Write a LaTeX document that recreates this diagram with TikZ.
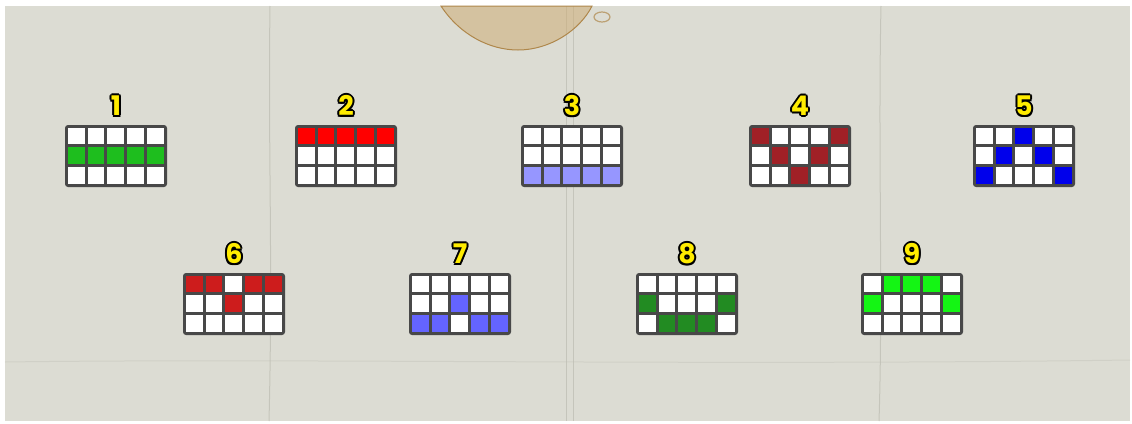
\documentclass[tikz,border=0pt]{standalone}
\usepackage{fontspec}
\setmainfont{Poppins}
\usetikzlibrary{positioning, calc}

\definecolor{paper}{RGB}{220,220,211}
\definecolor{fold}{RGB}{192,192,182}
\definecolor{stain}{RGB}{205,170,110}
\definecolor{stainedge}{RGB}{175,135,75}
\definecolor{frame}{RGB}{72,72,72}
\definecolor{numyellow}{RGB}{255,236,0}
% payline colours
\definecolor{payA}{RGB}{30,190,30}
\definecolor{payB}{RGB}{255,0,0}
\definecolor{payC}{RGB}{150,150,255}
\definecolor{payD}{RGB}{160,32,38}
\definecolor{payE}{RGB}{0,0,235}
\definecolor{payF}{RGB}{205,28,28}
\definecolor{payG}{RGB}{100,100,255}
\definecolor{payH}{RGB}{34,139,34}
\definecolor{payI}{RGB}{20,245,20}

\begin{document}
\begin{tikzpicture}[
    x=1pt, y=-1pt,
    payframe/.style={rectangle, fill=frame, rounded corners=3pt, minimum width=102pt, minimum height=62pt, inner sep=0pt},
    paynum/.style={inner sep=0pt, font=\fontsize{27}{27}\selectfont\bfseries, text=numyellow},
    numshadow/.style={inner sep=0pt, font=\fontsize{27}{27}\selectfont\bfseries, text=black},
    foldline/.style={draw=fold, line width=1pt, opacity=0.8}
  ]
    \useasboundingbox (0,0) rectangle (1132,423);

    % Paper background
    \fill[white] (0,0) rectangle (1132,423);
    \fill[paper] (5,6) rectangle (1130,421);

    % Folds in the paper
    \draw[foldline] (270,6) .. controls (268,150) and (273,260) .. (269,421);
    \draw[foldline] (566,6) -- (566,421);
    \draw[foldline] (573,6) -- (573,421);
    \draw[foldline] (881,6) .. controls (878,140) and (883,300) .. (879,421);
    \draw[foldline, opacity=0.4] (5,362) .. controls (300,358) and (700,366) .. (1130,360);

    % Coffee stain at the top
    \filldraw[fill=stain, fill opacity=0.5, draw=stainedge, line width=1pt]
      (441,6) .. controls (460,35) and (490,50) .. (518,50)
      .. controls (550,50) and (580,30) .. (592,6) -- cycle;
    \draw[stainedge, line width=1.2pt, opacity=0.7] (602,17) ellipse (8 and 5);

    % Paylines: number / centre / colour / row of each reel
    \foreach \n/\cx/\cy/\col/\ra/\rb/\rc/\rd/\re in {
        1/116/156/payA/2/2/2/2/2,
        2/346/156/payB/1/1/1/1/1,
        3/572/156/payC/3/3/3/3/3,
        4/800/156/payD/1/2/3/2/1,
        5/1024/156/payE/3/2/1/2/3,
        6/234/304/payF/1/1/2/1/1,
        7/460/304/payG/3/3/2/3/3,
        8/687/304/payH/2/3/3/3/2,
        9/912/304/payI/2/1/1/1/2}
    {
      \node[payframe] (line\n) at (\cx,\cy) {};
      % Cells
      \foreach \c/\sel in {1/\ra,2/\rb,3/\rc,4/\rd,5/\re}
        \foreach \r in {1,2,3} {
          \ifnum\r=\sel\relax\def\cellcol{\col}\else\def\cellcol{white}\fi
          \fill[\cellcol] ($(line\n.north west)+({3+(\c-1)*19.8},{3+(\r-1)*19.67})$) rectangle +(16.8,16.67);
        }
      % Number with a black outline
      \coordinate (numpos\n) at ($(line\n.north)+(0,-19)$);
      \foreach \a in {0,45,...,315}
        \node[numshadow] at ($(numpos\n)+(\a:2)$) {\n};
      \node[paynum] (num\n) at (numpos\n) {\n};
    }
  \end{tikzpicture}
\end{document}
